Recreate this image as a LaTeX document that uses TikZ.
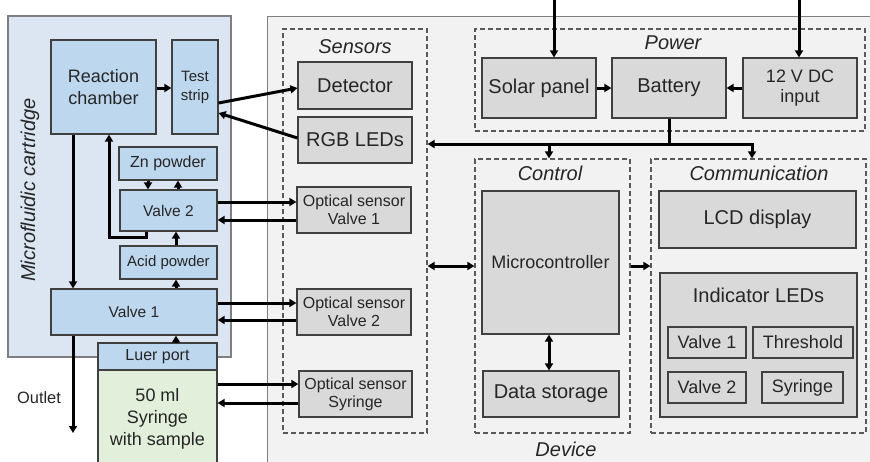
\documentclass[tikz,border=0pt]{standalone}
\usepackage{fontspec}
\setmainfont{Liberation Sans}
\usetikzlibrary{arrows.meta,calc}
\definecolor{cartbg}{HTML}{DCE6F2}
\definecolor{bluebx}{HTML}{BDD7EE}
\definecolor{graybx}{HTML}{D9D9D9}
\definecolor{devbg}{HTML}{F2F2F2}
\definecolor{greenbx}{HTML}{E2EFDA}
\definecolor{boxline}{HTML}{404040}
\definecolor{panelline}{HTML}{7F7F7F}
\definecolor{dashline}{HTML}{595959}
\definecolor{txt}{HTML}{262626}
\begin{document}
\begin{tikzpicture}[x=1pt,y=-1pt,
  every node/.style={text=txt, align=center, inner sep=1pt},
  panel/.style={draw=panelline, line width=1.2pt},
  bx/.style={draw=boxline, line width=1.2pt},
  bbox/.style={bx, fill=bluebx},
  gbox/.style={bx, fill=graybx},
  grp/.style={draw=dashline, line width=1.2pt, dash pattern=on 5pt off 3pt},
  fa/.style={font=\fontsize{15}{19}\selectfont},
  fb/.style={font=\fontsize{16}{18}\selectfont},
  fc/.style={font=\fontsize{18}{21.5}\selectfont},
  fd/.style={font=\fontsize{20}{23}\selectfont},
  fi/.style={font=\fontsize{20}{23}\selectfont\itshape},
  arr/.style={line width=3pt, -{Triangle[length=7pt,width=8pt]}},
  darr/.style={line width=3pt, {Triangle[length=7pt,width=8pt]}-{Triangle[length=7pt,width=8pt]}},
  ln/.style={line width=3pt}
]
\useasboundingbox (0,0) rectangle (870,461);
\clip (0,0) rectangle (870,461);
\fill[white] (0,0) rectangle (870,461);

% ---------- panels ----------
\node[panel, fill=cartbg, minimum width=223, minimum height=341] (cart) at (119.5,186.5) {};
\node[panel, fill=devbg, minimum width=623, minimum height=459, anchor=north west] (dev) at (267,16) {};
\node[fi] (cartlbl) at (30,190) [rotate=90] {Microfluidic cartridge};

% ---------- cartridge ----------
\node[bbox, fc, minimum width=105, minimum height=94] (rc) at (103.5,87) {Reaction\\chamber};
\node[bbox, fa, minimum width=46, minimum height=94] (ts) at (195,87) {Test\\strip};
\node[bbox, fb, minimum width=98, minimum height=33] (zn) at (168,163.5) {Zn powder};
\node[bbox, font=\fontsize{15.5}{18}\selectfont, minimum width=97, minimum height=41] (v2) at (168.5,210.5) {Valve 2};
\node[bbox, fa, minimum width=97, minimum height=33] (acid) at (168.5,262.5) {Acid powder};
\node[bbox, font=\fontsize{15.5}{18}\selectfont, minimum width=166, minimum height=46] (v1) at (134,312) {Valve 1};
\node[bbox, fb, minimum width=119, minimum height=27] (luer) at (157.5,356.5) {Luer port};
\node[bx, fill=greenbx, font=\fontsize{18}{22}\selectfont, minimum width=119, minimum height=98] (syr) at (157.5,419) {50 ml\\Syringe\\with sample};
\node[font=\fontsize{16.4}{18}\selectfont] (outlbl) at (39,398) {Outlet};

% ---------- sensors ----------
\node[grp, minimum width=144, minimum height=404] (sens) at (355,231) {};
\node[fi] (senslbl) at (355,47) {Sensors};
\node[gbox, fd, minimum width=114, minimum height=47] (det) at (355,85.5) {Detector};
\node[gbox, fd, minimum width=114, minimum height=46] (rgb) at (355,140) {RGB LEDs};
\node[gbox, fb, minimum width=114, minimum height=46] (os1) at (354,210) {Optical sensor\\Valve 1};
\node[gbox, fb, minimum width=114, minimum height=46] (os2) at (354,312) {Optical sensor\\Valve 2};
\node[gbox, fb, minimum width=113, minimum height=46] (os3) at (355.5,394) {Optical sensor\\Syringe};

% ---------- power ----------
\node[grp, minimum width=390, minimum height=102] (pow) at (670,80) {};
\node[fi] (powlbl) at (673,43) {Power};
\node[gbox, fd, minimum width=114, minimum height=60] (solar) at (539,88) {Solar panel};
\node[gbox, fd, minimum width=114, minimum height=60] (bat) at (669,88) {Battery};
\node[gbox, font=\fontsize{18}{20}\selectfont, minimum width=114, minimum height=60] (dc) at (800,88) {12 V DC\\input};

% ---------- control ----------
\node[grp, minimum width=155, minimum height=274] (ctrl) at (552.5,296) {};
\node[fi] (ctrllbl) at (550,173) {Control};
\node[gbox, fc, minimum width=137, minimum height=143] (mcu) at (550.5,262.5) {Microcontroller};
\node[gbox, fd, minimum width=136, minimum height=46] (ds) at (551,394) {Data storage};

% ---------- communication ----------
\node[grp, minimum width=215, minimum height=274] (comm) at (758.5,296) {};
\node[fi] (commlbl) at (759,173) {Communication};
\node[gbox, fd, minimum width=197, minimum height=57] (lcd) at (757.5,219.5) {LCD display};
\node[gbox, minimum width=197, minimum height=144] (ind) at (758.5,345) {};
\node[fd] (indlbl) at (758.5,295) {Indicator LEDs};
\node[gbox, fc, minimum width=78, minimum height=31] (iv1) at (707,342.5) {Valve 1};
\node[gbox, fc, minimum width=100, minimum height=31] (ith) at (803,342.5) {Threshold};
\node[gbox, fc, minimum width=78, minimum height=31] (iv2) at (707,387.5) {Valve 2};
\node[gbox, fc, minimum width=81, minimum height=31] (isy) at (802.5,387.5) {Syringe};
\node[fi] (devlbl) at (566,449) {Device};

% ---------- cartridge connectors ----------
\draw[arr] (rc.east |- 0,88) -- (ts.west |- 0,88);
\draw[arr] (rc.south -| 73,0) -- (v1.north -| 73,0);
\coordinate (outlet) at (73,433);
\draw[arr] (v1.south -| 73,0) -- (outlet);
\draw[arr] (v2.south -| 146,0) -- (146,237) -- (109,237) -- (rc.south -| 109,0);
\draw[arr] (zn.south -| 148,0) -- (v2.north -| 148,0);
\draw[arr] (v2.north -| 178,0) -- (zn.south -| 178,0);
\draw[arr] (acid.north -| 176,0) -- (v2.south -| 176,0);
\draw[arr] (v1.north -| 176,0) -- (acid.south -| 176,0);
\draw[arr] (luer.north -| 176,0) -- (v1.south -| 176,0);

% ---------- cartridge <-> sensors ----------
\draw[arr] (ts.east |- 0,103) -- (det.west |- 0,88);
\draw[arr] (rgb.west |- 0,138) -- (ts.east |- 0,113);
\draw[arr] (v2.east |- 0,202) -- (os1.west |- 0,202);
\draw[arr] (os1.west |- 0,220) -- (v2.east |- 0,220);
\draw[arr] (v1.east |- 0,303) -- (os2.west |- 0,303);
\draw[arr] (os2.west |- 0,320) -- (v1.east |- 0,320);
\draw[arr] (syr.east |- 0,384) -- (os3.west |- 0,384);
\draw[arr] (os3.west |- 0,403) -- (syr.east |- 0,403);

% ---------- power ----------
\coordinate (solin) at (554,0);
\coordinate (dcin) at (799,0);
\draw[arr] (solin) -- (solar.north -| solin);
\draw[arr] (dcin) -- (dc.north -| dcin);
\draw[arr] (solar.east) -- (bat.west);
\draw[arr] (dc.west) -- (bat.east);
\coordinate (bus) at (669,144);
\draw[ln] (bat.south) -- (bus);
\draw[arr] (bus) -- (sens.east |- bus);
\draw[arr] (549,144) -- (ctrl.north -| 549,0);
\draw[arr] (bus) -- (752,144) -- (comm.north -| 752,0);

% ---------- device internal ----------
\draw[darr] (sens.east |- 0,266) -- (ctrl.west |- 0,266);
\draw[arr] (ctrl.east |- 0,266) -- (comm.west |- 0,266);
\draw[darr] (mcu.south -| 549,0) -- (ds.north -| 549,0);
\end{tikzpicture}
\end{document}
